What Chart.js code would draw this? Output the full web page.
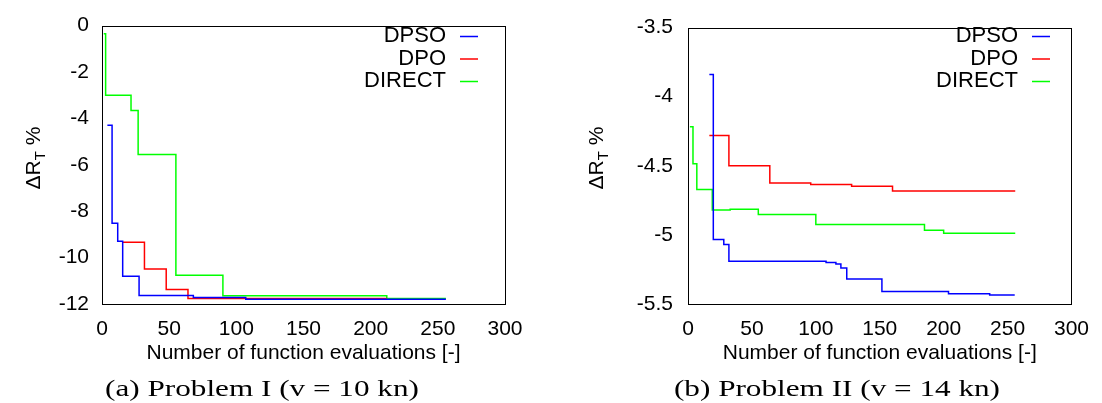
<!DOCTYPE html>
<html>
<head>
<meta charset="utf-8">
<script src="https://cdn.jsdelivr.net/npm/chart.js@4/dist/chart.umd.min.js"></script>
<style>
	html, body { margin: 0; padding: 0; background: #fff; }
	#wrap { position: relative; width: 1102px; height: 403px; overflow: hidden; }
	.panel { position: absolute; top: 0; width: 551px; height: 403px; }
	.caption {
		position: absolute; top: 376px; width: 400px; text-align: center;
		font-family: "Liberation Serif", "Times New Roman", serif; font-size: 24px;
		line-height: 24px; color: #000; white-space: pre;
		transform: scaleX(1.3); transform-origin: center;
	}
</style>
</head>
<body>
<div id="wrap">
	<div class="panel" style="left:0"><canvas id="c1" width="551" height="403"></canvas></div>
	<div class="panel" style="left:551px"><canvas id="c2" width="551" height="403"></canvas></div>
	<div class="caption" style="left:62px">(a) Problem I (v = 10 kn)</div>
	<div class="caption" style="left:637px">(b) Problem II (v = 14 kn)</div>
</div>
<script>
// ---- data: problem I (v = 10 kn)
const p1DpsoX = [4, 7.5, 11.7, 15.4, 27.6, 68, 107, 256];
const p1DpsoY = [-4.3, -8.52, -9.3, -10.8, -11.63, -11.72, -11.8, -11.8];
const p1DpoX = [15.4, 31.6, 47.8, 64, 212];
const p1DpoY = [-9.34, -10.49, -11.37, -11.76, -11.76];
const p1DirectX = [1.3, 2.7, 21.6, 26.9, 55, 90, 212, 256];
const p1DirectY = [-0.35, -3.0, -3.66, -5.56, -10.76, -11.64, -11.76, -11.76];

// ---- data: problem II (v = 14 kn)
const p2DpsoX = [16.7, 19.8, 28, 32, 108, 115.7, 119.6, 124.2, 151.7, 203.8, 236, 255.6];
const p2DpsoY = [-3.84, -5.033, -5.07, -5.19, -5.2, -5.21, -5.24, -5.32, -5.41, -5.425, -5.435, -5.435];
const p2DpoX = [16.7, 32, 64, 96, 128, 160, 256];
const p2DpoY = [-4.28, -4.5, -4.625, -4.636, -4.648, -4.683, -4.683];
const p2DirectX = [1.5, 3.9, 6.9, 19, 33, 55, 100, 185, 200, 256];
const p2DirectY = [-4.218, -4.486, -4.671, -4.82, -4.815, -4.852, -4.925, -4.967, -4.988, -4.988];

const seriesNames = ["DPSO", "DPO", "DIRECT"];
const seriesColors = ["#0000ff", "#ff0000", "#00ff00"];
const xTicks = { min: 0, max: 300, step: 50 };
const p1YTicks = { min: -12, max: 0, step: 2 };
const p2YTicks = { min: -5.5, max: -3.5, step: 0.5 };

const FONT = "'Liberation Sans', Arial, sans-serif";
const toPoints = (xs, ys) => xs.map((x, i) => ({ x, y: ys[i] }));

// frame, legend and y title (with subscript)
const decorations = {
	id: "decorations",
	afterDraw(chart, args, opts) {
		const { ctx, chartArea: a } = chart;
		ctx.save();
		ctx.strokeStyle = "#000";
		ctx.lineWidth = 1;
		ctx.strokeRect(Math.round(a.left) + 0.5, Math.round(a.top) + 0.5,
			Math.round(a.right - a.left), Math.round(a.bottom - a.top));

		// legend
		ctx.font = "22px " + FONT;
		ctx.textAlign = "right";
		ctx.textBaseline = "middle";
		seriesNames.forEach((name, i) => {
			const y = 36 + i * 22.5;
			ctx.fillStyle = "#000";
			ctx.fillText(name, opts.legendX, y);
			ctx.strokeStyle = seriesColors[i];
			ctx.lineWidth = 1.5;
			ctx.beginPath();
			ctx.moveTo(opts.legendX + 14, y + 0.5);
			ctx.lineTo(opts.legendX + 32, y + 0.5);
			ctx.stroke();
		});

		// y axis title: ΔR_T %
		ctx.translate(opts.titleX, opts.titleY);
		ctx.rotate(-Math.PI / 2);
		ctx.fillStyle = "#000";
		ctx.textAlign = "left";
		ctx.textBaseline = "alphabetic";
		const big = "21px " + FONT, small = "15px " + FONT;
		ctx.font = big;
		const w1 = ctx.measureText("\u0394R").width;
		const w3 = ctx.measureText(" %").width;
		ctx.font = small;
		const w2 = ctx.measureText("T").width;
		let x = -(w1 + w2 + w3) / 2;
		ctx.font = big;
		ctx.fillText("\u0394R", x, 7);
		x += w1;
		ctx.font = small;
		ctx.fillText("T", x, 12);
		x += w2;
		ctx.font = big;
		ctx.fillText(" %", x, 7);
		ctx.restore();
	},
};

function makePanel(id, data, yTicks, opts) {
	const datasets = data.map((d, i) => ({
		label: seriesNames[i],
		data: d,
		borderColor: seriesColors[i],
		borderWidth: 1.5,
		pointRadius: 0,
		stepped: "before",
		fill: false,
	}));
	return new Chart(document.getElementById(id), {
		type: "line",
		data: { datasets },
		plugins: [decorations],
		options: {
			responsive: false,
			animation: false,
			events: [],
			layout: { padding: { top: 20, right: opts.padRight, left: 0, bottom: 0 } },
			plugins: {
				legend: { display: false },
				tooltip: { enabled: false },
				decorations: opts,
			},
			scales: {
				x: {
					type: "linear",
					min: xTicks.min,
					max: xTicks.max,
					grid: { display: false, drawTicks: false },
					border: { display: false },
					ticks: { stepSize: xTicks.step, color: "#000", padding: 13, font: { family: FONT, size: 21 } },
					title: {
						display: true,
						text: "Number of function evaluations [-]",
						color: "#000",
						font: { family: FONT, size: 21 },
						padding: { top: 0, bottom: 37 },
					},
					afterFit: s => { s.height = 99; },
				},
				y: {
					type: "linear",
					min: yTicks.min,
					max: yTicks.max,
					grid: { display: false, drawTicks: false },
					border: { display: false },
					ticks: {
						stepSize: yTicks.step, color: "#000", padding: opts.tickPad,
						font: { family: FONT, size: 21 },
						callback: v => String(v),
					},
					afterFit: s => { s.width = opts.axisLeft; },
				},
			},
		},
	});
}

makePanel("c1", [
	toPoints(p1DpsoX, p1DpsoY),
	toPoints(p1DpoX, p1DpoY),
	toPoints(p1DirectX, p1DirectY),
], p1YTicks, { axisLeft: 102, padRight: 46, tickPad: 13, legendX: 446, titleX: 33, titleY: 158 });

makePanel("c2", [
	toPoints(p2DpsoX, p2DpsoY),
	toPoints(p2DpoX, p2DpoY),
	toPoints(p2DirectX, p2DirectY),
], p2YTicks, { axisLeft: 137, padRight: 24, tickPad: 15, legendX: 467, titleX: 45, titleY: 158 });
</script>
</body>
</html>
